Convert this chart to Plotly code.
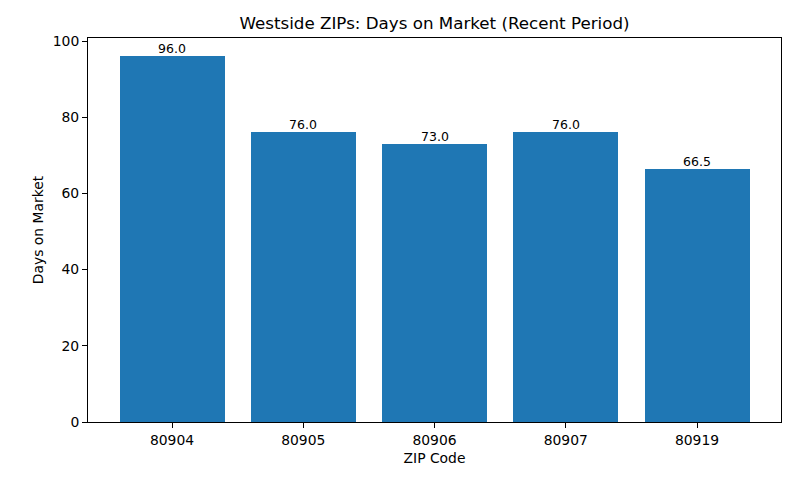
import plotly.graph_objects as go

zips = ["80904", "80905", "80906", "80907", "80919"]
days = [96.0, 76.0, 73.0, 76.0, 66.5]
labels = [f"{v:.1f}" for v in days]

fig = go.Figure(go.Bar(
    x=zips, y=days, width=0.8, marker_color="#1f77b4", marker_line_width=0,
))
for i, (v, t) in enumerate(zip(days, labels)):
    fig.add_annotation(x=i, y=v, xref="x", yref="y", text=t, showarrow=False,
                       yanchor="bottom", yshift=-2,
                       font=dict(family="DejaVu Sans", size=12.5, color="black"))
fig.update_layout(
    width=800, height=480,
    margin=dict(l=88, r=19, t=38, b=58),
    plot_bgcolor="white", paper_bgcolor="white",
    font=dict(family="DejaVu Sans", size=13.9, color="black"),
    title=dict(text="Westside ZIPs: Days on Market (Recent Period)", x=0.5, xref="paper",
               xanchor="center", y=1 - 23/480, yanchor="middle", font=dict(size=16.7)),
    showlegend=False,
    bargap=0,
)
fig.update_xaxes(type="category", range=[-0.64, 4.64], showline=True, linecolor="black", linewidth=1,
                 mirror=True, ticks="outside", ticklen=5, tickcolor="black", showgrid=False,
                 tickfont=dict(size=13.9),
                 title=dict(text="ZIP Code", standoff=6, font=dict(size=13.9)))
fig.update_yaxes(range=[0, 100.8], showline=True, linecolor="black", linewidth=1, mirror=True,
                 ticks="outside", ticklen=5, tickcolor="black", showgrid=False, zeroline=False,
                 dtick=20, tickfont=dict(size=13.9),
                 title=dict(text="Days on Market", standoff=5, font=dict(size=13.9)))
fig.write_html("out.html")
